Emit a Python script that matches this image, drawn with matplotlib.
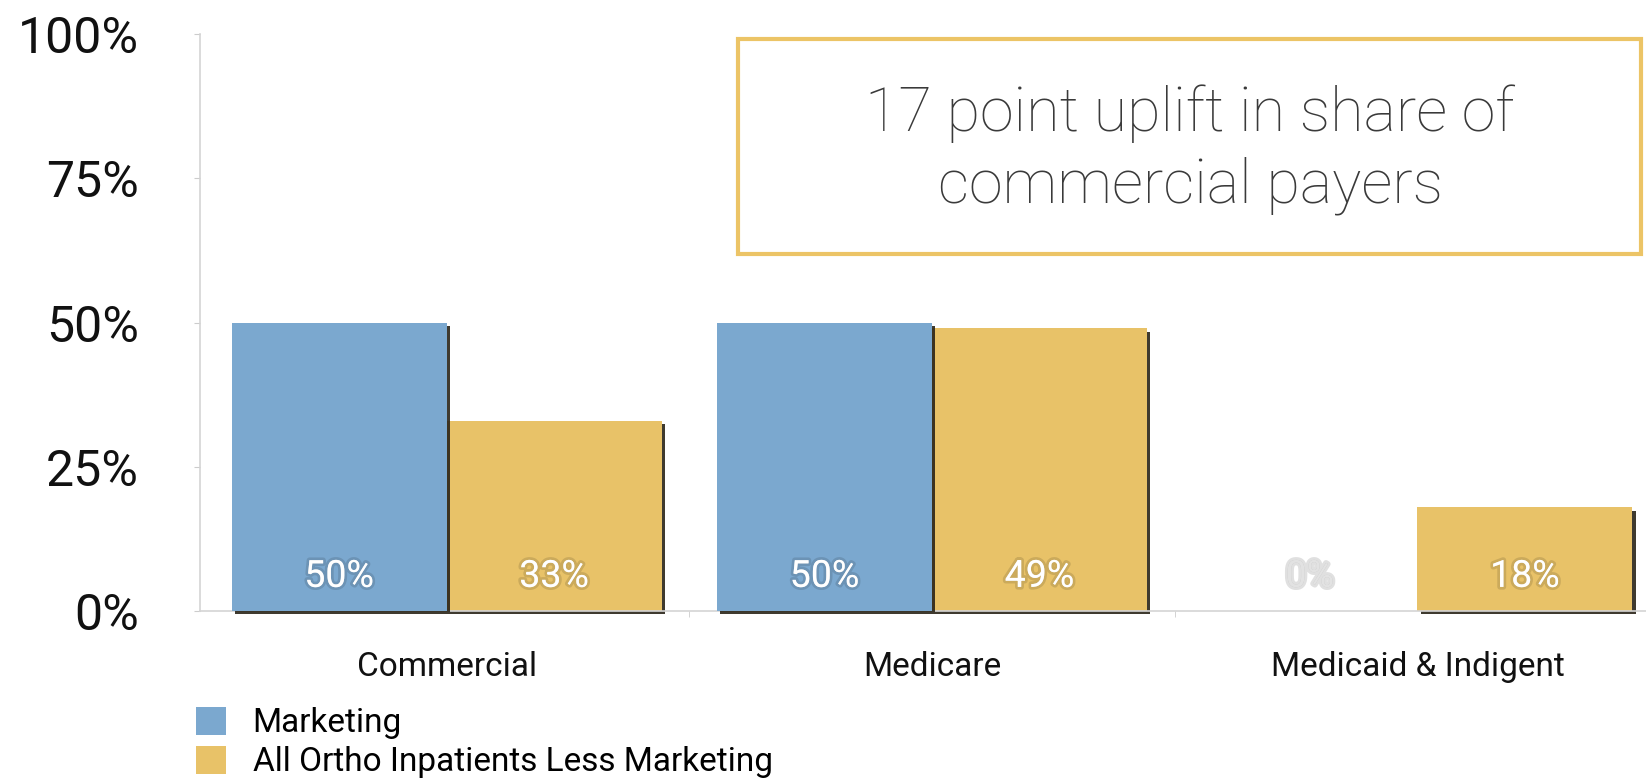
import matplotlib
matplotlib.use('Agg')
import matplotlib.pyplot as plt
import matplotlib.patheffects as pe
from matplotlib import font_manager
from matplotlib.patches import Rectangle, Patch
import numpy as np

# Payer mix data (percent of patients)
categories = ['Commercial', 'Medicare', 'Medicaid & Indigent']
marketing = [50, 50, 0]
all_ortho = [33, 49, 18]
series_names = ['Marketing', 'All Ortho Inpatients Less Marketing']
y_ticks = [0, 25, 50, 75, 100]
y_tick_labels = ['0%', '25%', '50%', '75%', '100%']
callout = '17 point uplift in share of\ncommercial payers'

BLUE = '#7ba8cf'
GOLD = '#e8c268'
BOX_GOLD = '#ecc466'


def pick_font(candidates):
    installed = {f.name for f in font_manager.fontManager.ttflist}
    for name in candidates:
        if name in installed:
            return name
    return 'DejaVu Sans'


main_font = pick_font(['Roboto', 'Lato', 'Open Sans', 'DejaVu Sans'])
plt.rcParams['font.family'] = [main_font, 'DejaVu Sans']

W, H = 1646, 783
fig = plt.figure(figsize=(W / 100, H / 100), dpi=100)
ax = fig.add_axes([200 / W, (H - 611) / H, (W - 200) / W, (611 - 34) / H])

x = np.arange(len(categories))
width = 0.443
shadow = [pe.SimplePatchShadow(offset=(2.5, -2.5), shadow_rgbFace='#2a2418', alpha=0.9), pe.Normal()]

bars_b = ax.bar(x - width / 2, marketing, width, color=BLUE, zorder=3, clip_on=False)
bars_g = ax.bar(x + width / 2, all_ortho, width, color=GOLD, zorder=2, clip_on=False)
for b in list(bars_b) + list(bars_g):
    b.set_path_effects(shadow)

# value labels near the base of each bar
glow = [pe.withStroke(linewidth=4, foreground=(0, 0, 0, 0.12))]
for xi, v in zip(x - width / 2, marketing):
    ax.text(xi, 6, f'{v}%', ha='center', va='center', fontsize=27,
            color='white' if v > 0 else '#e2e2e2', path_effects=glow, zorder=5)
for xi, v in zip(x + width / 2, all_ortho):
    ax.text(xi, 6, f'{v}%', ha='center', va='center', fontsize=27,
            color='white', path_effects=glow, zorder=5)

ax.set_xlim(-0.508, 2.471)
ax.set_ylim(0, 100)
ax.set_yticks(y_ticks)
ax.set_yticklabels(y_tick_labels, fontsize=36, color='#111111')
ax.tick_params(axis='y', length=4, color='#cccccc', pad=40)

ax.set_xticks(x)
ax.set_xticklabels(categories, fontsize=24, color='#111111')
ax.tick_params(axis='x', which='major', length=0, pad=29)
ax.set_xticks([0.5, 1.5], minor=True)
ax.tick_params(axis='x', which='minor', length=4, color='#cccccc')

for side in ['top', 'right']:
    ax.spines[side].set_visible(False)
for side in ['left', 'bottom']:
    ax.spines[side].set_color('#d4d4d4')
    ax.spines[side].set_linewidth(1.2)

handles = [Patch(facecolor=BLUE), Patch(facecolor=GOLD)]
fig.legend(handles=handles, labels=series_names, loc='upper left',
           bbox_to_anchor=(196 / W, (H - 707) / H), frameon=False, fontsize=24,
           handlelength=0.9, handleheight=0.9, handletextpad=0.8,
           labelspacing=0.2, borderpad=0, borderaxespad=0)

# callout box
fig.patches.append(Rectangle((738 / W, (H - 254) / H), (1641 - 738) / W, (254 - 39) / H,
                             transform=fig.transFigure, fill=False,
                             edgecolor=BOX_GOLD, linewidth=3))
fig.text(1190 / W, (H - 150) / H, callout, ha='center', va='center',
         fontsize=44, fontweight='light', color='#3a3a3a', linespacing=1.3)

fig.savefig('out.png', dpi=100)
